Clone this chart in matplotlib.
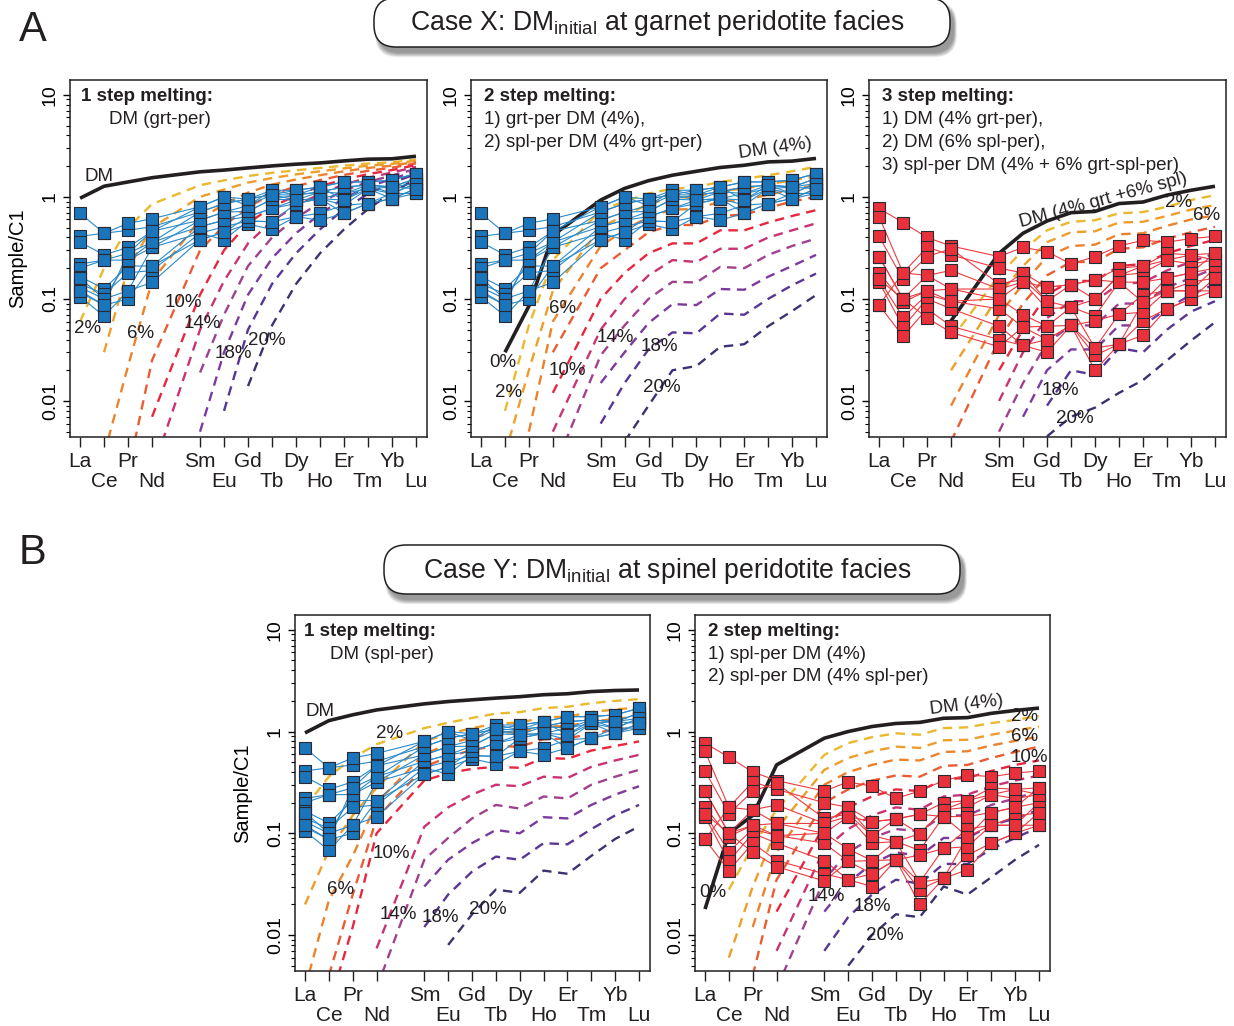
import numpy as np
import matplotlib.pyplot as plt
from matplotlib.patches import FancyBboxPatch
from matplotlib.ticker import NullFormatter, LogLocator

plt.rcParams['font.family'] = 'Liberation Sans'
plt.rcParams['mathtext.fontset'] = 'custom'
plt.rcParams['mathtext.rm'] = 'Liberation Sans'

W, H = 1234, 1026
N = np.nan

# REE order, Pm left out (gap between Nd and Sm)
elements = ['La', 'Ce', 'Pr', 'Nd', 'Sm', 'Eu', 'Gd', 'Tb', 'Dy', 'Ho', 'Er', 'Tm', 'Yb', 'Lu']
ree_x = [0, 1, 2, 3, 5, 6, 7, 8, 9, 10, 11, 12, 13, 14]

melt_pct = [2, 4, 6, 8, 10, 12, 14, 16, 18, 20]
melt_colors = ['#EBB92E', '#EE9E2A', '#EC822C', '#EA5C34', '#E8263F',
               '#C93273', '#A0418F', '#7C3A9E', '#573694', '#3A3372']

# samples, chondrite normalised (rows = samples)
blue_samples = [
    [0.69, 0.44, 0.47, 0.51, 0.71, 0.86, 0.95, 1.05, 1.16, 1.25, 1.40, 1.40, 1.46, 1.69],
    [0.41, 0.44, 0.55, 0.61, 0.80, 1.00, 0.82, 1.16, 1.04, 1.12, 1.25, 1.30, 1.25, 1.51],
    [0.36, 0.27, 0.32, 0.46, 0.59, 0.71, 0.72, 0.95, 0.93, 0.96, 1.08, 1.20, 1.08, 1.35],
    [0.22, 0.24, 0.28, 0.36, 0.51, 0.59, 0.64, 0.77, 0.86, 0.96, 0.93, 1.20, 0.96, 1.20],
    [0.20, 0.24, 0.24, 0.32, 0.44, 0.51, 0.58, 0.57, 0.64, 0.69, 0.83, 0.86, 0.96, 1.08],
    [0.165, 0.126, 0.21, 0.21, 0.38, 0.45, 0.54, 0.48, 0.64, 0.59, 0.69, 0.86, 1.08, 1.08],
    [0.14, 0.112, 0.18, 0.19, 0.44, 0.38, 0.58, 0.57, 0.86, 0.96, 0.83, 1.20, 1.25, 1.20],
    [0.13, 0.10, 0.12, 0.145, 0.38, 0.45, 0.64, 0.77, 0.93, 1.12, 1.08, 1.30, 1.08, 1.35],
    [0.115, 0.087, 0.10, 0.21, 0.51, 0.59, 0.72, 0.95, 1.04, 1.12, 1.25, 1.30, 1.25, 1.51],
    [0.105, 0.068, 0.12, 0.32, 0.59, 0.71, 0.82, 1.05, 1.04, 1.25, 1.40, 1.40, 1.46, 1.69],
    [0.16, 0.10, 0.24, 0.36, 0.71, 0.86, 0.95, 1.16, 1.16, 1.25, 0.93, 1.30, 1.25, 1.35],
    [0.12, 0.087, 0.28, 0.46, 0.80, 1.00, 0.95, 1.05, 0.93, 0.96, 0.69, 0.86, 0.96, 1.20],
]
red_samples = [
    [0.77, 0.56, 0.40, 0.33, 0.26, 0.32, 0.29, 0.22, 0.26, 0.33, 0.375, 0.36, 0.39, 0.41],
    [0.64, 0.18, 0.32, 0.27, 0.20, 0.18, 0.13, 0.138, 0.154, 0.20, 0.21, 0.28, 0.27, 0.28],
    [0.41, 0.155, 0.26, 0.31, 0.14, 0.155, 0.095, 0.083, 0.099, 0.17, 0.18, 0.24, 0.22, 0.24],
    [0.26, 0.10, 0.17, 0.19, 0.125, 0.146, 0.08, 0.083, 0.068, 0.146, 0.146, 0.16, 0.18, 0.20],
    [0.18, 0.093, 0.12, 0.125, 0.10, 0.07, 0.054, 0.055, 0.061, 0.071, 0.11, 0.12, 0.146, 0.16],
    [0.155, 0.066, 0.11, 0.095, 0.08, 0.053, 0.04, 0.055, 0.033, 0.036, 0.093, 0.12, 0.12, 0.20],
    [0.146, 0.053, 0.10, 0.08, 0.054, 0.035, 0.03, 0.055, 0.02, 0.036, 0.044, 0.08, 0.10, 0.12],
    [0.087, 0.043, 0.08, 0.054, 0.04, 0.035, 0.04, 0.055, 0.028, 0.036, 0.061, 0.08, 0.10, 0.16],
    [0.155, 0.10, 0.065, 0.047, 0.034, 0.053, 0.054, 0.083, 0.033, 0.071, 0.074, 0.12, 0.12, 0.12],
    [0.087, 0.18, 0.17, 0.125, 0.125, 0.18, 0.095, 0.138, 0.099, 0.17, 0.21, 0.24, 0.27, 0.24],
    [0.26, 0.10, 0.12, 0.095, 0.10, 0.146, 0.13, 0.138, 0.154, 0.146, 0.093, 0.16, 0.18, 0.28],
]

# Case X, 1 step: DM melted in garnet peridotite facies
dm_x1 = [0.97, 1.27, 1.40, 1.54, 1.76, 1.83, 1.92, 2.01, 2.09, 2.15, 2.25, 2.34, 2.36, 2.50]
melt_x1 = [
    [0.06, 0.20, 0.50, 0.85, 1.30, 1.45, 1.60, 1.72, 1.82, 1.92, 2.02, 2.12, 2.18, 2.32],
    [N, 0.03, 0.20, 0.50, 1.00, 1.18, 1.38, 1.53, 1.66, 1.78, 1.90, 2.02, 2.10, 2.26],
    [N, 0.003, 0.022, 0.15, 0.60, 0.85, 1.10, 1.32, 1.48, 1.63, 1.78, 1.92, 2.02, 2.20],
    [N, N, 0.002, 0.025, 0.30, 0.52, 0.80, 1.05, 1.27, 1.46, 1.64, 1.80, 1.93, 2.13],
    [N, N, N, 0.007, 0.11, 0.30, 0.55, 0.80, 1.03, 1.27, 1.48, 1.67, 1.83, 2.05],
    [N, N, N, 0.002, 0.05, 0.15, 0.35, 0.58, 0.82, 1.07, 1.32, 1.54, 1.73, 1.97],
    [N, N, N, N, 0.019, 0.07, 0.21, 0.40, 0.62, 0.88, 1.15, 1.40, 1.62, 1.88],
    [N, N, N, N, 0.005, 0.03, 0.11, 0.25, 0.44, 0.68, 0.97, 1.25, 1.50, 1.78],
    [N, N, N, N, N, 0.008, 0.05, 0.14, 0.28, 0.48, 0.76, 1.07, 1.37, 1.68],
    [N, N, N, N, N, N, 0.014, 0.055, 0.14, 0.28, 0.48, 0.76, 1.10, 1.50],
]

# Case X, 2 step: grt-per DM (4%) re-melted as spl-per
dm_x2 = [N, 0.03, 0.085, 0.42, 0.93, 1.21, 1.44, 1.63, 1.78, 1.94, 2.04, 2.20, 2.24, 2.38]
melt_x2 = [
    [N, 0.008, 0.055, 0.24, 0.74, 0.90, 1.08, 1.20, 1.25, 1.40, 1.50, 1.63, 1.78, 1.97],
    [N, 0.003, 0.02, 0.12, 0.50, 0.66, 0.85, 0.98, 1.00, 1.15, 1.20, 1.33, 1.45, 1.60],
    [N, N, 0.005, 0.06, 0.33, 0.47, 0.64, 0.75, 0.76, 0.90, 0.93, 1.05, 1.18, 1.30],
    [N, N, N, 0.03, 0.20, 0.30, 0.45, 0.53, 0.53, 0.65, 0.67, 0.78, 0.90, 1.00],
    [N, N, N, 0.012, 0.10, 0.18, 0.28, 0.35, 0.35, 0.47, 0.47, 0.56, 0.65, 0.74],
    [N, N, N, 0.005, 0.05, 0.10, 0.17, 0.24, 0.23, 0.31, 0.31, 0.40, 0.47, 0.55],
    [N, N, N, 0.002, 0.028, 0.055, 0.10, 0.147, 0.145, 0.206, 0.20, 0.27, 0.33, 0.39],
    [N, N, N, N, 0.015, 0.03, 0.058, 0.089, 0.087, 0.125, 0.123, 0.165, 0.21, 0.27],
    [N, N, N, N, 0.006, 0.015, 0.032, 0.047, 0.046, 0.072, 0.07, 0.10, 0.136, 0.177],
    [N, N, N, N, N, 0.004, 0.009, 0.02, 0.022, 0.034, 0.036, 0.054, 0.076, 0.109],
]

# Case X, 3 step: DM (4% grt + 6% spl)
dm_x3 = [N, N, N, 0.061, 0.28, 0.44, 0.58, 0.70, 0.72, 0.86, 0.89, 1.04, 1.16, 1.27]
melt_x3 = [
    [N, N, N, 0.04, 0.17, 0.30, 0.47, 0.57, 0.59, 0.69, 0.71, 0.80, 0.93, 1.04],
    [N, N, N, 0.02, 0.11, 0.21, 0.36, 0.45, 0.46, 0.56, 0.57, 0.65, 0.75, 0.83],
    [N, N, N, 0.009, 0.07, 0.14, 0.26, 0.33, 0.34, 0.43, 0.44, 0.52, 0.60, 0.66],
    [N, N, N, 0.004, 0.04, 0.09, 0.17, 0.23, 0.23, 0.31, 0.32, 0.39, 0.45, 0.51],
    [N, N, N, N, 0.02, 0.05, 0.11, 0.15, 0.15, 0.21, 0.22, 0.28, 0.33, 0.38],
    [N, N, N, N, 0.01, 0.03, 0.065, 0.095, 0.095, 0.14, 0.145, 0.19, 0.23, 0.28],
    [N, N, N, N, 0.005, 0.015, 0.037, 0.055, 0.055, 0.09, 0.09, 0.13, 0.16, 0.20],
    [N, N, N, N, N, 0.007, 0.02, 0.032, 0.032, 0.055, 0.055, 0.08, 0.11, 0.14],
    [N, N, N, N, N, N, 0.009, 0.02, 0.018, 0.033, 0.03, 0.05, 0.075, 0.095],
    [N, N, N, N, N, N, 0.0045, 0.007, 0.0086, 0.012, 0.016, 0.025, 0.039, 0.059],
]

# Case Y, 1 step: DM melted in spinel peridotite facies
dm_y1 = [0.97, 1.28, 1.46, 1.63, 1.87, 1.97, 2.05, 2.13, 2.20, 2.30, 2.35, 2.47, 2.53, 2.56]
melt_y1 = [
    [0.18, 0.36, 0.55, 0.75, 1.08, 1.22, 1.36, 1.50, 1.55, 1.70, 1.75, 1.90, 2.00, 2.08],
    [0.02, 0.068, 0.15, 0.28, 0.80, 0.95, 1.08, 1.20, 1.22, 1.38, 1.40, 1.55, 1.65, 1.72],
    [0.003, 0.022, 0.06, 0.20, 0.60, 0.75, 0.88, 0.98, 0.98, 1.12, 1.13, 1.25, 1.33, 1.40],
    [N, 0.004, 0.025, 0.14, 0.45, 0.56, 0.66, 0.72, 0.71, 0.84, 0.85, 0.96, 1.04, 1.10],
    [N, 0.002, 0.012, 0.10, 0.33, 0.39, 0.43, 0.45, 0.44, 0.55, 0.54, 0.65, 0.72, 0.80],
    [N, N, N, 0.0074, 0.116, 0.18, 0.24, 0.30, 0.29, 0.36, 0.35, 0.45, 0.52, 0.59],
    [N, N, N, 0.003, 0.055, 0.09, 0.14, 0.19, 0.175, 0.23, 0.22, 0.30, 0.36, 0.42],
    [N, N, N, N, 0.03, 0.055, 0.08, 0.108, 0.10, 0.144, 0.14, 0.19, 0.24, 0.29],
    [N, N, N, N, 0.012, 0.025, 0.042, 0.059, 0.055, 0.08, 0.078, 0.11, 0.15, 0.19],
    [N, N, N, N, N, 0.008, 0.016, 0.028, 0.026, 0.043, 0.04, 0.06, 0.088, 0.117],
]

# Case Y, 2 step: spl-per DM (4%) re-melted
dm_y2 = [0.018, 0.10, 0.15, 0.47, 0.86, 1.00, 1.12, 1.20, 1.23, 1.35, 1.37, 1.51, 1.61, 1.70]
melt_y2 = [
    [N, 0.028, 0.075, 0.17, 0.59, 0.77, 0.88, 0.96, 0.93, 1.08, 1.10, 1.21, 1.30, 1.42],
    [N, 0.006, 0.03, 0.11, 0.42, 0.55, 0.64, 0.71, 0.69, 0.82, 0.83, 0.93, 1.02, 1.12],
    [N, N, 0.012, 0.065, 0.30, 0.40, 0.47, 0.53, 0.52, 0.63, 0.64, 0.73, 0.81, 0.89],
    [N, N, 0.004, 0.035, 0.20, 0.27, 0.33, 0.37, 0.36, 0.46, 0.47, 0.55, 0.63, 0.71],
    [N, N, N, 0.017, 0.12, 0.18, 0.23, 0.27, 0.26, 0.34, 0.35, 0.41, 0.47, 0.52],
    [N, N, N, 0.007, 0.07, 0.11, 0.15, 0.18, 0.17, 0.23, 0.24, 0.29, 0.33, 0.37],
    [N, N, N, 0.003, 0.035, 0.065, 0.09, 0.11, 0.105, 0.15, 0.15, 0.19, 0.22, 0.26],
    [N, N, N, N, 0.017, 0.033, 0.05, 0.065, 0.06, 0.09, 0.09, 0.12, 0.14, 0.17],
    [N, N, N, N, 0.007, 0.015, 0.025, 0.035, 0.032, 0.05, 0.05, 0.07, 0.09, 0.115],
    [N, N, N, N, N, 0.005, 0.01, 0.016, 0.015, 0.03, 0.025, 0.037, 0.055, 0.077],
]


def px_rect(left, top, right, bottom):
    return [left / W, 1 - bottom / H, (right - left) / W, (bottom - top) / H]


def series(vals):
    # drop the missing points so dashed lines start where the model does
    pts = [(x, v) for x, v in zip(ree_x, vals) if not np.isnan(v)]
    return [p[0] for p in pts], [p[1] for p in pts]


def setup_axes(ax, ylabel=False):
    ax.set_yscale('log')
    ax.set_xlim(-0.42, 14.46)
    ax.set_ylim(10 ** -2.353, 10 ** 1.145)
    up = [i for i in range(14) if i % 2 == 0]
    lo = [i for i in range(14) if i % 2 == 1]
    ax.set_xticks([ree_x[i] for i in up], [elements[i] for i in up])
    ax.set_xticks([ree_x[i] for i in lo], [elements[i] for i in lo], minor=True)
    ax.tick_params(axis='x', which='both', direction='out', length=7, width=1,
                   labelsize=15, colors='#231F20')
    ax.tick_params(axis='x', which='major', pad=4)
    ax.tick_params(axis='x', which='minor', pad=18)
    ax.set_yticks([0.01, 0.1, 1, 10], ['0.01', '0.1', '1', '10'])
    ax.yaxis.set_minor_locator(LogLocator(base=10, subs=np.arange(2, 10)))
    ax.yaxis.set_minor_formatter(NullFormatter())
    ax.tick_params(axis='y', which='major', direction='out', length=5, width=1,
                   labelsize=14, labelrotation=90, pad=3)
    ax.tick_params(axis='y', which='minor', direction='out', length=3, width=0.8)
    for lab in ax.get_yticklabels():
        lab.set_va('center')
    for s in ax.spines.values():
        s.set_linewidth(1.1)
        s.set_color('#231F20')
    if ylabel:
        ax.set_ylabel('Sample/C1', fontsize=14.5)
        ax.yaxis.set_label_coords(-0.12, 0.5)


def draw_panel(ax, dm, curves, samples, face, line):
    for vals, col in zip(curves, melt_colors):
        xs, ys = series(vals)
        ax.plot(xs, ys, color=col, lw=1.7, dashes=(4, 2.8), zorder=2)
    xs, ys = series(dm)
    ax.plot(xs, ys, color='#231F20', lw=2.6, zorder=3, solid_capstyle='butt')
    for s in samples:
        ax.plot(ree_x, s, color=line, lw=0.8, zorder=4)
    for s in samples:
        ax.plot(ree_x, s, ls='none', marker='s', ms=8, mfc=face, mec='#2A2A35',
                mew=0.8, zorder=5)


fig = plt.figure(figsize=(W / 100, H / 100), dpi=100)

# header boxes and panel letters
bg = fig.add_axes([0, 0, 1, 1])
bg.set_xlim(0, W)
bg.set_ylim(H, 0)
bg.axis('off')


def title_box(left, top, right, bottom, text):
    for k in range(8):
        sh = FancyBboxPatch((left + 4 - k * 0.4, top + 6 - k * 0.3),
                            right - left + k * 0.8, bottom - top + k * 0.9,
                            boxstyle='round,pad=0,rounding_size=22',
                            fc='#000000', ec='none', alpha=0.06)
        bg.add_patch(sh)
    box = FancyBboxPatch((left, top), right - left, bottom - top,
                         boxstyle='round,pad=0,rounding_size=22',
                         fc='white', ec='#231F20', lw=1.1)
    bg.add_patch(box)
    bg.text((left + right) / 2 - 5, (top + bottom) / 2 + 1, text, fontsize=19.2,
            ha='center', va='center', color='#231F20')


title_box(374, -2, 950, 47, r'Case X: DM$_{\mathregular{initial}}$ at garnet peridotite facies')
title_box(384, 545, 960, 594, r'Case Y: DM$_{\mathregular{initial}}$ at spinel peridotite facies')
bg.text(33, 30, 'A', fontsize=30, ha='center', va='center', color='#231F20')
bg.text(33, 553, 'B', fontsize=30, ha='center', va='center', color='#231F20')

tkw = dict(fontsize=13.5, color='#231F20', ha='center', va='center', zorder=6)

# A, 1 step
ax1 = fig.add_axes(px_rect(70, 80, 427, 437))
setup_axes(ax1, ylabel=True)
draw_panel(ax1, dm_x1, melt_x1, blue_samples, '#1B75BB', '#2A8BCB')
ax1.text(0.03, 0.955, '1 step melting:', transform=ax1.transAxes, fontsize=13.5,
         fontweight='bold', va='center', color='#231F20')
ax1.text(0.11, 0.89, 'DM (grt-per)', transform=ax1.transAxes, fontsize=13.5,
         va='center', color='#231F20')
ax1.text(0.8, 1.6, 'DM', **tkw)
for t, x, y in [('2%', 0.33, 0.051), ('6%', 2.54, 0.046), ('10%', 4.3, 0.093),
                ('14%', 5.1, 0.058), ('18%', 6.4, 0.029), ('20%', 7.8, 0.039)]:
    ax1.text(x, y, t, **tkw)

# A, 2 step
ax2 = fig.add_axes(px_rect(471, 80, 827, 437))
setup_axes(ax2)
draw_panel(ax2, dm_x2, melt_x2, blue_samples, '#1B75BB', '#2A8BCB')
ax2.text(0.037, 0.955, '2 step melting:', transform=ax2.transAxes, fontsize=13.5,
         fontweight='bold', va='center', color='#231F20')
ax2.text(0.037, 0.89, '1) grt-per DM (4%),', transform=ax2.transAxes, fontsize=13.5,
         va='center', color='#231F20')
ax2.text(0.037, 0.826, '2) spl-per DM (4% grt-per)', transform=ax2.transAxes, fontsize=13.5,
         va='center', color='#231F20')
ax2.text(12.3, 3.0, 'DM (4%)', rotation=8, **tkw)
for t, x, y in [('0%', 0.92, 0.024), ('2%', 1.17, 0.012), ('6%', 3.4, 0.081),
                ('10%', 3.6, 0.02), ('14%', 5.6, 0.042), ('18%', 7.46, 0.034),
                ('20%', 7.54, 0.0136)]:
    ax2.text(x, y, t, **tkw)

# A, 3 step
ax3 = fig.add_axes(px_rect(869, 80, 1226, 437))
setup_axes(ax3)
draw_panel(ax3, dm_x3, melt_x3, red_samples, '#E8313A', '#EE3A40')
ax3.text(0.037, 0.955, '3 step melting:', transform=ax3.transAxes, fontsize=13.5,
         fontweight='bold', va='center', color='#231F20')
for i, t in enumerate(['1) DM (4% grt-per),', '2) DM (6% spl-per),',
                       '3) spl-per DM (4% + 6% grt-spl-per)']):
    ax3.text(0.037, 0.89 - i * 0.0645, t, transform=ax3.transAxes, fontsize=13.5,
             va='center', color='#231F20')
ax3.text(9.33, 0.93, 'DM (4% grt +6% spl)', rotation=15, **tkw)
for t, x, y in [('2%', 12.5, 0.88), ('6%', 13.67, 0.66), ('18%', 7.54, 0.0127),
                ('20%', 8.17, 0.0067)]:
    ax3.text(x, y, t, **tkw)

# B, 1 step
ax4 = fig.add_axes(px_rect(295, 615, 650, 971))
setup_axes(ax4, ylabel=True)
draw_panel(ax4, dm_y1, melt_y1, blue_samples, '#1B75BB', '#2A8BCB')
ax4.text(0.025, 0.955, '1 step melting:', transform=ax4.transAxes, fontsize=13.5,
         fontweight='bold', va='center', color='#231F20')
ax4.text(0.1, 0.89, 'DM (spl-per)', transform=ax4.transAxes, fontsize=13.5,
         va='center', color='#231F20')
ax4.text(0.62, 1.56, 'DM', **tkw)
for t, x, y in [('2%', 3.54, 0.95), ('10%', 3.6, 0.064), ('6%', 1.5, 0.028),
                ('14%', 3.9, 0.016), ('18%', 5.67, 0.015), ('20%', 7.67, 0.018)]:
    ax4.text(x, y, t, **tkw)

# B, 2 step
ax5 = fig.add_axes(px_rect(695, 615, 1050, 971))
setup_axes(ax5)
draw_panel(ax5, dm_y2, melt_y2, red_samples, '#E8313A', '#EE3A40')
ax5.text(0.037, 0.955, '2 step melting:', transform=ax5.transAxes, fontsize=13.5,
         fontweight='bold', va='center', color='#231F20')
ax5.text(0.037, 0.89, '1) spl-per DM (4%)', transform=ax5.transAxes, fontsize=13.5,
         va='center', color='#231F20')
ax5.text(0.037, 0.826, '2) spl-per DM (4% spl-per)', transform=ax5.transAxes, fontsize=13.5,
         va='center', color='#231F20')
ax5.text(10.96, 1.83, 'DM (4%)', rotation=7, **tkw)
for t, x, y in [('0%', 0.33, 0.026), ('14%', 5.1, 0.024), ('18%', 7.0, 0.019),
                ('20%', 7.54, 0.01), ('2%', 13.4, 1.4), ('6%', 13.4, 0.89),
                ('10%', 13.6, 0.56)]:
    ax5.text(x, y, t, **tkw)

fig.savefig('out.png', dpi=100)
